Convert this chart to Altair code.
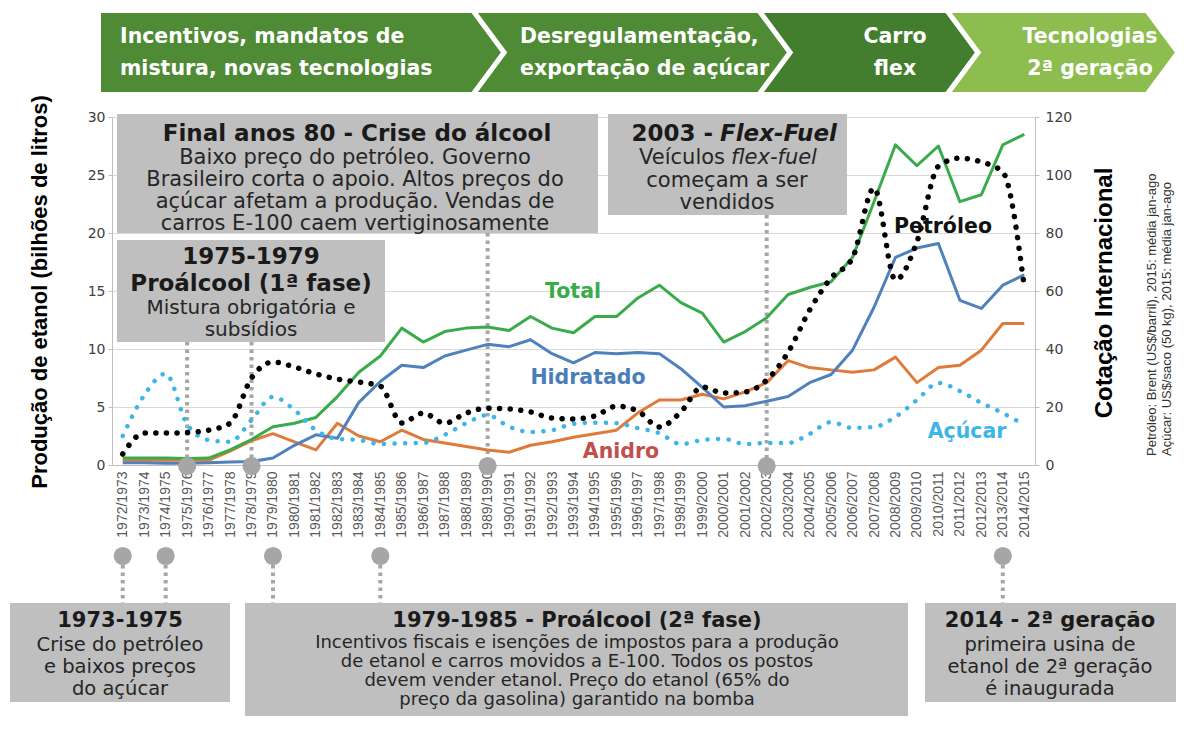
import altair as alt
import pandas as pd

# ---------------- data ----------------
seasons = [f"{a}/{a + 1}" for a in range(1972, 2015)]

total = [0.6, 0.6, 0.6, 0.55, 0.6, 1.3, 2.2, 3.3, 3.6, 4.1, 5.9, 8.0, 9.4, 11.8, 10.6,
         11.5, 11.8, 11.9, 11.6, 12.8, 11.8, 11.4, 12.8, 12.8, 14.4, 15.5, 14.0, 13.1,
         10.6, 11.5, 12.7, 14.7, 15.3, 15.8, 17.9, 22.7, 27.6, 25.8, 27.5, 22.7, 23.3,
         27.6, 28.5]
hidratado = [0.2, 0.2, 0.15, 0.15, 0.2, 0.25, 0.3, 0.6, 1.7, 2.6, 2.3, 5.4, 7.2, 8.6, 8.4,
             9.4, 9.9, 10.4, 10.2, 10.8, 9.6, 8.8, 9.7, 9.6, 9.7, 9.6, 8.3, 6.7, 5.0, 5.1,
             5.5, 5.9, 7.1, 7.8, 9.9, 13.6, 17.9, 18.7, 19.1, 14.2, 13.5, 15.5, 16.4]
anidro = [0.4, 0.4, 0.4, 0.4, 0.4, 1.2, 2.1, 2.7, 2.0, 1.3, 3.6, 2.5, 2.0, 3.0, 2.2, 1.9,
          1.6, 1.3, 1.1, 1.7, 2.0, 2.4, 2.7, 3.0, 4.5, 5.6, 5.6, 6.1, 5.7, 6.3, 7.1, 9.0,
          8.4, 8.2, 8.0, 8.2, 9.3, 7.1, 8.4, 8.6, 9.9, 12.2, 12.2]
petroleo = [3.8, 11, 11, 11.2, 12, 14.4, 30, 35.5, 33.8, 31.4, 29.6, 28.6, 27.2, 14.5,
            17.9, 14.4, 17.9, 19.6, 19.3, 18.3, 16.2, 15.9, 16.9, 20.3, 18.6, 13.1, 18.3,
            26.9, 24.8, 25.2, 29.3, 38.9, 53.4, 64.5, 71.4, 95.5, 63.8, 77, 103, 105.8,
            104.5, 101, 61.4]
acucar = [10, 24, 31.5, 14, 8.6, 8, 15.5, 23.5, 19, 12, 9, 8.6, 7.2, 7.5, 7.6, 10.4, 14.4,
          17.2, 13.2, 11.4, 12, 14.2, 14.6, 14.4, 12.7, 11, 7.2, 8.6, 9, 7.2, 7.6, 7.6,
          10.7, 14.8, 12.8, 13.1, 16.6, 22.4, 28.3, 25.5, 21.4, 17.9, 13.8]

prod_names = ["Anidro", "Hidratado", "Total"]
prod_series = [anidro, hidratado, total]
prod_colors = ["#e07a3a", "#4f81bd", "#3aab4b"]
price_names = ["Açúcar", "Petróleo"]
price_series = [acucar, petroleo]
price_colors = ["#3db5e6", "#000000"]
price_widths = [4.5, 5.5]

axis_marks_seasons = ["1975/1976", "1978/1979", "1989/1990", "2002/2003"]
bottom_marks_seasons = ["1972/1973", "1974/1975", "1979/1980", "1984/1985", "2013/2014"]

# ---------------- layout helpers ----------------
OX, OY = 112, 117          # plot origin in page pixels
W, H = 923, 348            # plot size


def px(x):
    return x - OX


def py(y):
    return y - OY


prod_df = pd.DataFrame([
    {"safra": s, "serie": n, "valor": v, "cor": c}
    for n, ser, c in zip(prod_names, prod_series, prod_colors)
    for s, v in zip(seasons, ser)
])
price_df = pd.DataFrame([
    {"safra": s, "serie": n, "cot": v, "cor": c, "sw": w}
    for n, ser, c, w in zip(price_names, price_series, price_colors, price_widths)
    for s, v in zip(seasons, ser)
])

x_enc = alt.X(
    "safra:O",
    scale=alt.Scale(domain=seasons, type="point", padding=0.5),
    axis=alt.Axis(title=None, labelAngle=-90, labelFont="Liberation Sans", labelFontSize=14,
                  labelColor="#595959", ticks=False, domainColor="#bfbfbf", labelPadding=6,
                  grid=False, labelOverlap=False),
)

prod_chart = alt.Chart(prod_df).mark_line(strokeWidth=3, strokeJoin="round").encode(
    x=x_enc,
    y=alt.Y("valor:Q", scale=alt.Scale(domain=[0, 30]),
            axis=alt.Axis(orient="left", values=[0, 5, 10, 15, 20, 25, 30], title=None,
                          grid=True, gridColor="#d9d9d9", domainColor="#bfbfbf",
                          tickColor="#bfbfbf", tickSize=4, labelFont="DejaVu Sans",
                          labelFontSize=14, labelColor="#404040", labelPadding=3)),
    color=alt.Color("cor:N", scale=None),
    detail="serie:N",
)

price_chart = alt.Chart(price_df).mark_line(
    strokeDash=[0.1, 10.5], strokeCap="round", interpolate="monotone"
).encode(
    x=x_enc,
    y=alt.Y("cot:Q", scale=alt.Scale(domain=[0, 120]),
            axis=alt.Axis(orient="right", values=[0, 20, 40, 60, 80, 100, 120], title=None,
                          grid=False, domainColor="#bfbfbf", tickColor="#bfbfbf",
                          tickSize=4, labelFont="DejaVu Sans", labelFontSize=14,
                          labelColor="#404040", labelPadding=6)),
    color=alt.Color("cor:N", scale=None),
    strokeWidth=alt.StrokeWidth("sw:Q", scale=None),
    detail="serie:N",
)

# ---------------- banner chevrons ----------------
def chevron(x0, x1, notch, depth=30, yt=12, yb=93):
    ym = (yt + yb) / 2
    pts = [(x0, yt), (x1, yt), (x1 + depth, ym), (x1, yb), (x0, yb)]
    if notch:
        pts.append((x0 + depth, ym))
    return "M" + "L".join(f"{px(x):.1f},{py(y):.1f}" for x, y in pts) + "Z"


chev_df = pd.DataFrame({
    "path": [chevron(100, 472, False), chevron(476, 758, True),
             chevron(762, 946, True), chevron(950, 1146, True)],
    "cor": ["#4f8a34", "#4f8a34", "#437d2e", "#8dbd4e"],
})
chevrons = alt.Chart(chev_df).mark_point(
    filled=True, opacity=1, fillOpacity=1, stroke="white", strokeWidth=2
).encode(
    x=alt.value(0), y=alt.value(0), size=alt.value(4),
    shape=alt.Shape("path:N", scale=None), fill=alt.Fill("cor:N", scale=None),
)

# ---------------- grey boxes ----------------
boxes_df = pd.DataFrame({
    "x1": [px(117), px(117), px(608), px(10), px(245), px(925)],
    "x2": [px(598), px(385), px(847), px(230), px(908), px(1176)],
    "y1": [py(114), py(240), py(114), py(603), py(603), py(603)],
    "y2": [py(233), py(342), py(215), py(702), py(716), py(702)],
})
boxes = alt.Chart(boxes_df).mark_rect(color="#bfbfbf").encode(
    x=alt.X("x1:Q", scale=None, axis=None), x2="x2:Q",
    y=alt.Y("y1:Q", scale=None, axis=None), y2="y2:Q",
)

# ---------------- dotted connectors and circles ----------------
vert_df = pd.DataFrame({
    "safra": axis_marks_seasons + bottom_marks_seasons,
    "ya": [py(342), py(342), py(233), py(215)] + [py(565)] * 5,
    "yb": [py(462)] * 4 + [py(603)] * 5,
})
verts = alt.Chart(vert_df).mark_rule(color="#a6a6a6", strokeWidth=4, strokeDash=[3.5, 4]).encode(
    x=x_enc, y=alt.Y("ya:Q", scale=None, axis=None), y2="yb:Q",
)
circ_df = pd.DataFrame({
    "safra": axis_marks_seasons + bottom_marks_seasons,
    "yc": [py(466)] * 4 + [py(556)] * 5,
})
circles = alt.Chart(circ_df).mark_point(filled=True, color="#a6a6a6", opacity=1, size=330).encode(
    x=x_enc, y=alt.Y("yc:Q", scale=None, axis=None),
)


# ---------------- texts ----------------
def texts(rows, **kw):
    df = pd.DataFrame([{"x": px(x), "y": py(y), "t": t} for x, y, t in rows])
    base = dict(baseline="middle")
    base.update(kw)
    return alt.Chart(df).mark_text(**base).encode(
        x=alt.X("x:Q", scale=None, axis=None),
        y=alt.Y("y:Q", scale=None, axis=None),
        text="t:N",
    )


banner_left = texts([
    (120, 37, "Incentivos, mandatos de"), (120, 69, "mistura, novas tecnologias"),
    (520, 37, "Desregulamentação,"), (520, 69, "exportação de açúcar"),
], align="left", font="DejaVu Sans", fontWeight="bold", fontSize=20.5, color="white")
banner_center = texts([
    (895, 37, "Carro"), (895, 69, "flex"),
    (1090, 37, "Tecnologias"), (1090, 69, "2ª geração"),
], align="center", font="DejaVu Sans", fontWeight="bold", fontSize=20.5, color="white")

top_titles = texts([
    (357, 134, "Final anos 80 - Crise do álcool"),
    (251, 257, "1975-1979"),
    (251, 284, "Proálcool (1ª fase)"),
], align="center", font="DejaVu Sans", fontWeight="bold", fontSize=23, color="#1a1a1a")
top_body = texts([
    (355, 158, "Baixo preço do petróleo. Governo"),
    (355, 180, "Brasileiro corta o apoio. Altos preços do"),
    (355, 202, "açúcar afetam a produção. Vendas de"),
    (355, 224, "carros E-100 caem vertiginosamente"),
    (727, 181, "começam a ser"),
    (727, 203, "vendidos"),
], align="center", font="DejaVu Sans", fontSize=21, color="#262626")
box2_body = texts([
    (251, 308, "Mistura obrigatória e"),
    (251, 330, "subsídios"),
], align="center", font="DejaVu Sans", fontSize=20, color="#262626")
flex_a = texts([(713, 134, "2003 -")], align="right", font="DejaVu Sans",
               fontWeight="bold", fontSize=23, color="#1a1a1a")
flex_b = texts([(720, 134, "Flex-Fuel")], align="left", font="DejaVu Sans",
               fontWeight="bold", fontStyle="italic", fontSize=23, color="#1a1a1a")
flex_c = texts([(725, 158, "Veículos")], align="right", font="DejaVu Sans",
               fontSize=21, color="#262626")
flex_d = texts([(731, 158, "flex-fuel")], align="left", font="DejaVu Sans",
               fontStyle="italic", fontSize=21, color="#262626")

bottom_titles = texts([
    (120, 621, "1973-1975"),
    (577, 621, "1979-1985 - Proálcool (2ª fase)"),
    (1050, 621, "2014 - 2ª geração"),
], align="center", font="DejaVu Sans", fontWeight="bold", fontSize=21, color="#1a1a1a")
bottom_body = texts([
    (120, 645, "Crise do petróleo"), (120, 667, "e baixos preços"), (120, 689, "do açúcar"),
    (1050, 645, "primeira usina de"), (1050, 667, "etanol de 2ª geração"),
    (1050, 689, "é inaugurada"),
], align="center", font="DejaVu Sans", fontSize=19.5, color="#262626")
bottom_body2 = texts([
    (577, 643, "Incentivos fiscais e isenções de impostos para a produção"),
    (577, 662, "de etanol e carros movidos a E-100. Todos os postos"),
    (577, 681, "devem vender etanol. Preço do etanol (65% do"),
    (577, 700, "preço da gasolina) garantido na bomba"),
], align="center", font="DejaVu Sans", fontSize=18, color="#262626")

label_df = pd.DataFrame({
    "x": [px(573), px(588), px(621), px(943), px(967)],
    "y": [py(292), py(378), py(452), py(227), py(432)],
    "t": ["Total", "Hidratado", "Anidro", "Petróleo", "Açúcar"],
    "cor": ["#3aab4b", "#4a7ebb", "#c0504d", "#111111", "#3db5e6"],
})
series_labels = alt.Chart(label_df).mark_text(
    font="DejaVu Sans", fontWeight="bold", fontSize=20.5, baseline="middle", align="center"
).encode(
    x=alt.X("x:Q", scale=None, axis=None), y=alt.Y("y:Q", scale=None, axis=None),
    text="t:N", color=alt.Color("cor:N", scale=None),
)

axis_title_left = texts([(40, 292, "Produção de etanol (bilhões de litros)")], angle=270,
                        align="center", font="Liberation Sans", fontWeight="bold",
                        fontSize=22, color="#000000")
axis_title_right = texts([(1105, 293, "Cotação Internacional")], angle=270,
                         align="center", font="Liberation Sans", fontWeight="bold",
                         fontSize=24, color="#000000")
notes = texts([
    (1152, 456, "Petróleo: Brent (US$/barril), 2015: média jan-ago"),
    (1167, 456, "Açúcar: US$/saco (50 kg), 2015: média jan-ago"),
], angle=270, align="left", font="Liberation Sans", fontSize=13, color="#333333")

chart = alt.layer(
    chevrons, boxes, verts, prod_chart, price_chart, circles,
    banner_left, banner_center, top_titles, top_body, box2_body,
    flex_a, flex_b, flex_c, flex_d,
    bottom_titles, bottom_body, bottom_body2, series_labels,
    axis_title_left, axis_title_right, notes,
).resolve_scale(y="independent").properties(
    width=W, height=H,
    padding={"left": 104, "top": 109, "right": 141, "bottom": 251},
    autosize=alt.AutoSizeParams(type="none"),
    background="white",
).configure_view(stroke=None)

chart.save("out.html", embed_options={"renderer": "svg", "actions": False})
